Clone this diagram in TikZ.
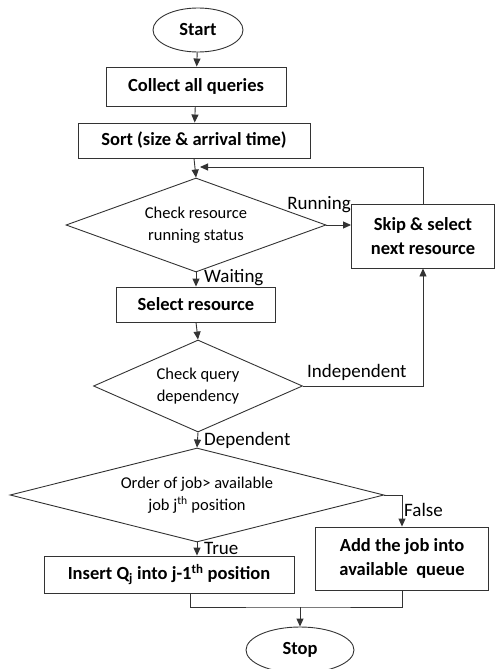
\documentclass[tikz,border=0pt]{standalone}
\usepackage{fontspec}
\setmainfont{Carlito}
\usetikzlibrary{shapes.geometric,arrows.meta,calc}
\begin{document}
\begin{tikzpicture}[x=1pt,y=-1pt,
  line/.style={draw=black!80,line width=0.9pt},
  arr/.style={line,-{Triangle[length=8pt,width=7pt]}},
  boxn/.style={rectangle,line,inner sep=0pt,align=center,font=\fontsize{18.5}{24}\selectfont\bfseries},
  oval/.style={ellipse,line,inner sep=0pt,font=\fontsize{18.5}{22}\selectfont\bfseries},
  dia/.style={diamond,line,inner sep=0pt,align=center,font=\fontsize{16.5}{22}\selectfont},
  lab/.style={inner sep=0pt,font=\fontsize{19}{22}\selectfont}]
\useasboundingbox (0,0) rectangle (495,669);
\node[oval,minimum width=90,minimum height=44] (start) at (198,30) {Start};
\node[boxn,minimum width=180,minimum height=39] (collect) at (196,86.5) {Collect all queries};
\node[boxn,minimum width=232,minimum height=35] (sort) at (194,140.5) {Sort (size \& arrival time)};
\node[dia,aspect=2.77,minimum width=260,minimum height=94] (d1) at (196,225) {Check resource\\running status};
\node[boxn,minimum width=143,minimum height=64] (skip) at (423,236) {Skip \& select\\next resource};
\node[boxn,minimum width=159,minimum height=35] (select) at (196,304.5) {Select resource};
\node[dia,aspect=2.27,minimum width=209,minimum height=92] (d2) at (198,386) {Check query\\dependency};
\node[dia,aspect=3.98,minimum width=374,minimum height=94] (d3) at (197,495) {Order of job> available\\job j\textsuperscript{th} position};
\node[boxn,minimum width=250,minimum height=37] (insert) at (169,574.5) {Insert Q\textsubscript{j} into j-1\textsuperscript{th} position};
\node[boxn,minimum width=173,minimum height=63] (add) at (402,558.5) {Add the job into\\available\ \ queue};
\node[oval,minimum width=108,minimum height=46] (stop) at (300,650) {Stop};
\coordinate (lp) at (200,167);
\coordinate (j) at (300,607);
\draw[arr] (start) -- (collect);
\draw[arr] (collect) -- (sort);
\draw[arr] (sort.south) -- (d1.north);
\draw[arr] (skip.north) |- (lp);
\draw[arr] (d1.east) -- (skip.west |- d1.east);
\draw[arr] (d1.south) -- (select.north);
\draw[arr] (select.south) -- (d2.north);
\draw[arr] (d2.east) -| (skip.south);
\draw[arr] (d2.south) -- (d3.north);
\draw[arr] (d3.east) -| (add.north);
\draw[arr] (d3.south) -- (d3.south |- insert.north);
\draw[line] ($(insert.south)+(21,0)$) |- (j) -| (add.south);
\draw[arr] (j) -- (stop.north);
\node[lab,anchor=east] (lrun) at (351,205) {Running};
\node[lab,anchor=west] (lwait) at (204,278) {Waiting};
\node[lab,anchor=west] (lind) at (307,372) {Independent};
\node[lab,anchor=west] (ldep) at (204,440) {Dependent};
\node[lab,anchor=west] (lfalse) at (404,510) {False};
\node[lab,anchor=west] (ltrue) at (204,548) {True};
\end{tikzpicture}
\end{document}
